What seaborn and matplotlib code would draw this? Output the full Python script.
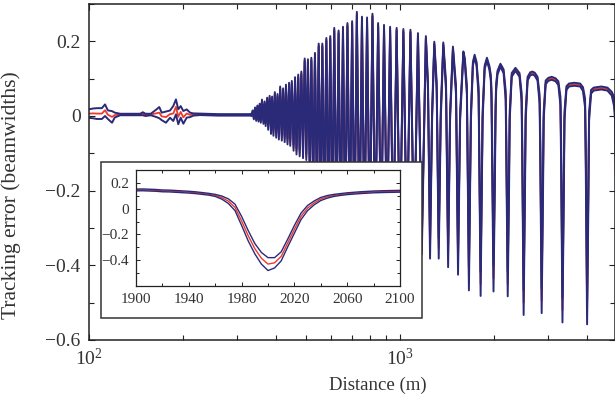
import numpy as np
import pandas as pd
import seaborn as sns
import matplotlib.pyplot as plt
from matplotlib.patches import Rectangle
from matplotlib.ticker import MultipleLocator, FuncFormatter, FixedLocator

sns.set_theme(style="ticks")
plt.rcParams['font.family'] = ['Liberation Serif', 'DejaVu Serif']
plt.rcParams['mathtext.fontset'] = 'stix'

NAVY = '#2b2a78'
RED = '#ee3a2c'

# early part: small noise before the oscillations start (distance m, mean, half-spread)
noise_dist = [100, 103, 106, 110, 112.6, 115, 118.6, 121, 126, 135, 146, 149, 152, 158,
              165, 168.3, 171.3, 176.8, 182.2, 186.7, 190.4, 193.7, 197.2, 201.1, 206.2,
              211.3, 216.4, 227.4, 260, 300, 330]
noise_err = [0.0065, 0.007, 0.0065, 0.0065, 0.0155, 0.0035, -0.0025, 0.0025, 0.004, 0.004,
             0.004, 0.006, 0.003, 0.004, 0.0075, 0.009, -0.001, -0.003, 0.005, 0.0067,
             0.0244, -0.002, 0.011, -0.0036, 0.0067, 0.003, 0.004, 0.0045, 0.003, 0.003, 0.003]
noise_spread = [0.0115, 0.013, 0.0145, 0.0145, 0.0155, 0.0115, 0.0155, 0.0065, 0.002, 0.002,
                0.002, 0.004, 0.003, 0.002, 0.0105, 0.015, 0.010, 0.015, 0.0097, 0.02,
                0.02, 0.02, 0.0155, 0.017, 0.011, 0.006, 0.003, 0.002, 0.002, 0.002, 0.002]

# dense oscillations: alternating troughs / peaks
osc_dist = [333, 336, 339, 342, 345, 348, 351, 354, 357, 360, 364, 367, 370, 374, 377, 381,
            385, 388, 392, 396, 400, 404, 408, 412, 417, 421, 426, 430, 435, 440, 444, 449,
            455, 460, 465, 471, 476, 482, 488, 494, 500, 506, 513, 519, 526, 533, 541, 548,
            556, 563, 571, 580, 588, 597, 606, 615, 625, 635, 645, 656, 667, 678, 690, 702,
            714, 727, 741, 755, 769, 784, 800, 816, 833, 851, 870, 889, 909, 930, 952, 976,
            1000, 1026, 1053, 1081, 1111, 1143, 1176, 1212]
osc_err = [0.002, 0.012, -0.005, 0.02, -0.008, 0.025, -0.01, 0.03, -0.012, 0.04, -0.015, 0.035,
           -0.02, 0.045, -0.03, 0.05, -0.04, 0.048, -0.045, 0.06, -0.05, 0.055, -0.055, 0.075,
           -0.058, 0.07, -0.062, 0.08, -0.068, 0.085, -0.072, 0.09, -0.085, 0.1, -0.095, 0.107,
           -0.1, 0.115, -0.105, 0.15, -0.11, 0.148, -0.15, 0.152, -0.19, 0.165, -0.22, 0.19,
           -0.24, 0.19, -0.26, 0.205, -0.28, 0.21, -0.3, 0.232, -0.31, 0.225, -0.32, 0.235,
           -0.33, 0.245, -0.33, 0.25, -0.34, 0.275, -0.34, 0.262, -0.34, 0.26, -0.35, 0.27,
           -0.35, 0.245, -0.35, 0.24, -0.35, 0.235, -0.35, 0.232, -0.35, 0.229, -0.35, 0.227,
           -0.35, 0.218, -0.35, 0.21]
osc_spread = [0.002, 0.003, 0.004, 0.003, 0.005, 0.003, 0.005, 0.003, 0.006, 0.004, 0.006, 0.004,
              0.007, 0.004, 0.007, 0.004, 0.008, 0.004, 0.008, 0.004, 0.008, 0.004, 0.008, 0.004,
              0.008, 0.004, 0.008, 0.004, 0.008, 0.004, 0.008, 0.004, 0.008, 0.004, 0.008, 0.004,
              0.008, 0.004, 0.008, 0.004, 0.008, 0.004, 0.02, 0.004, 0.02, 0.004, 0.02, 0.004,
              0.02, 0.004, 0.02, 0.004, 0.02, 0.004, 0.02, 0.004, 0.02, 0.004, 0.02, 0.004,
              0.02, 0.004, 0.02, 0.004, 0.02, 0.004, 0.02, 0.004, 0.02, 0.004, 0.02, 0.004,
              0.02, 0.004, 0.02, 0.004, 0.02, 0.004, 0.02, 0.004, 0.02, 0.004, 0.02, 0.004,
              0.02, 0.004, 0.02, 0.004]

# far range: separate narrow dips with rounded tops
far_dist = [1231, 1250, 1269, 1290, 1313, 1333, 1353, 1379, 1407, 1429, 1450, 1481,
            1515, 1538, 1562, 1600, 1617, 1642, 1667, 1692, 1717, 1739, 1764, 1791, 1818,
            1845, 1873, 1905, 1940, 1960, 1970, 1980, 2000, 2020, 2030, 2040, 2060, 2105,
            2155, 2189, 2200, 2222, 2244, 2255, 2289, 2353, 2425, 2463, 2475, 2500, 2525,
            2538, 2575, 2625, 2667, 2714, 2771, 2814, 2829, 2857, 2886, 2900, 2943, 3000,
            3077, 3167, 3233, 3283, 3300, 3333, 3366, 3383, 3433, 3500, 3636, 3800, 3880,
            3940, 3960, 4000, 4040, 4060, 4120, 4200, 4444, 4650, 4800, 4880, 4930, 5000]
far_err = [0.08, -0.355, 0.0, 0.195, 0.08, -0.355, 0.0, 0.193, 0.08, -0.375, 0.0, 0.182,
           0.07, -0.395, 0.0, 0.169, 0.15, 0.07, -0.435, 0.0, 0.14, 0.16, 0.14, 0.065, -0.45,
           0.0, 0.13, 0.152, 0.129, 0.103, 0.06, -0.096, -0.435, -0.16, 0.008, 0.078, 0.116, 0.136,
           0.12, 0.055, -0.1, -0.45, -0.17, 0.0, 0.11, 0.125, 0.11, 0.05, -0.1, -0.5, -0.18,
           0.0, 0.1, 0.113, 0.115, 0.112, 0.1, 0.045, -0.1, -0.495, -0.18, 0.0, 0.09, 0.098,
           0.101, 0.097, 0.088, 0.04, -0.1, -0.52, -0.19, 0.0, 0.075, 0.083, 0.085, 0.083, 0.072,
           0.035, -0.1, -0.525, -0.19, 0.0, 0.065, 0.072, 0.075, 0.072, 0.06, 0.04, 0.0, -0.55]
far_spread = [0.012, 0.027, 0.012, 0.004, 0.012, 0.027, 0.012, 0.004, 0.012, 0.03, 0.012, 0.004,
              0.012, 0.03, 0.012, 0.004, 0.005, 0.012, 0.032, 0.012, 0.005, 0.004, 0.005, 0.012, 0.032,
              0.012, 0.005, 0.004, 0.005, 0.008, 0.015, 0.035, 0.035, 0.03, 0.02, 0.01, 0.005, 0.004,
              0.005, 0.012, 0.03, 0.033, 0.03, 0.012, 0.005, 0.004, 0.005, 0.012, 0.03, 0.033, 0.03,
              0.012, 0.005, 0.004, 0.004, 0.004, 0.005, 0.012, 0.03, 0.033, 0.03, 0.012, 0.005, 0.004,
              0.004, 0.004, 0.005, 0.012, 0.03, 0.033, 0.03, 0.012, 0.005, 0.004, 0.004, 0.004, 0.005,
              0.012, 0.03, 0.033, 0.03, 0.012, 0.005, 0.004, 0.004, 0.004, 0.005, 0.012, 0.02, 0.03]

# inset: one dip around 2000 m
inset_dist = [1900, 1905, 1910, 1915, 1920, 1925, 1930, 1935, 1940, 1945, 1950, 1955, 1960,
              1965, 1970, 1975, 1980, 1985, 1990, 1995, 2000, 2005, 2010, 2015, 2020, 2025,
              2030, 2035, 2040, 2045, 2050, 2055, 2060, 2070, 2080, 2090, 2100]
inset_err = [0.145, 0.146, 0.144, 0.142, 0.138, 0.137, 0.134, 0.131, 0.128, 0.124, 0.118, 0.112,
             0.103, 0.086, 0.058, 0.01, -0.095, -0.21, -0.31, -0.385, -0.43, -0.42, -0.37,
             -0.265, -0.16, -0.06, 0.005, 0.045, 0.075, 0.092, 0.103, 0.11, 0.116, 0.124, 0.13,
             0.133, 0.135]
inset_spread = [0.007, 0.007, 0.007, 0.007, 0.007, 0.007, 0.007, 0.007, 0.007, 0.007, 0.007,
                0.007, 0.008, 0.012, 0.018, 0.025, 0.035, 0.04, 0.04, 0.045, 0.05, 0.04, 0.035,
                0.03, 0.03, 0.025, 0.02, 0.015, 0.012, 0.01, 0.008, 0.007, 0.007, 0.007, 0.007,
                0.007, 0.007]
inset_ticks = [1900, 1940, 1980, 2020, 2060, 2100]

main = pd.DataFrame({
    "distance": noise_dist + osc_dist + far_dist,
    "err": noise_err + osc_err + far_err,
    "spread": noise_spread + osc_spread + far_spread,
})
main["upper"] = main["err"] + main["spread"]
main["lower"] = main["err"] - main["spread"]

ins = pd.DataFrame({"distance": inset_dist, "err": inset_err, "spread": inset_spread})
ins["upper"] = ins["err"] + ins["spread"]
ins["lower"] = ins["err"] - ins["spread"]

fig = plt.figure(figsize=(6.15, 3.98), dpi=100)
ax = fig.add_axes([89 / 615, 1 - 340 / 398, 525.5 / 615, 336 / 398])
ax.set_xscale("log")

sns.lineplot(data=main, x="distance", y="err", color=RED, lw=1.3, ax=ax,
             estimator=None, sort=False)
for col in ["upper", "lower"]:
    sns.lineplot(data=main, x="distance", y=col, color=NAVY, lw=1.4, ax=ax,
                 estimator=None, sort=False)

ax.set_xlim(100, 4900)
ax.set_ylim(-0.6, 0.3)
ax.yaxis.set_major_locator(FixedLocator([-0.6, -0.4, -0.2, 0, 0.2]))
ax.yaxis.set_minor_locator(MultipleLocator(0.1))
fmt = FuncFormatter(lambda v, p: "0" if abs(v) < 1e-9 else f"{v:.1f}".replace("-", "\u2212"))
ax.yaxis.set_major_formatter(fmt)
ax.tick_params(which="both", direction="in", top=True, right=True, colors="#222222",
               labelcolor="#333333", width=0.8)
ax.tick_params(which="major", length=4.5, labelsize=14, pad=6)
ax.tick_params(which="minor", length=3.5)
for s in ax.spines.values():
    s.set_color("#222222")
    s.set_linewidth(1.1)
ax.set_xlabel("Distance (m)", fontsize=13.5, color="#333333")
ax.set_ylabel("Tracking error (beamwidths)", fontsize=15.5, color="#333333")
ax.xaxis.set_label_coords(0.55, -0.11)
ax.yaxis.set_label_coords(-0.13, 0.43)

# white framed box behind the inset
box = Rectangle((101 / 615, 1 - 318 / 398), 320.5 / 615, 156 / 398, transform=fig.transFigure,
                facecolor="white", edgecolor="#333333", lw=1.1, zorder=1)
fig.patches.append(box)

axi = fig.add_axes([136 / 615, 1 - 286 / 398, 264 / 615, 116 / 398], zorder=2)
sns.lineplot(data=ins, x="distance", y="err", color=RED, lw=1.0, ax=axi,
             estimator=None, sort=False)
for col in ["upper", "lower"]:
    sns.lineplot(data=ins, x="distance", y=col, color=NAVY, lw=1.0, ax=axi,
                 estimator=None, sort=False)
axi.set_xlim(1900, 2100)
axi.set_ylim(-0.6, 0.3)
axi.xaxis.set_major_locator(FixedLocator(inset_ticks))
axi.xaxis.set_minor_locator(MultipleLocator(20))
axi.yaxis.set_major_locator(FixedLocator([-0.4, -0.2, 0, 0.2]))
axi.yaxis.set_minor_locator(MultipleLocator(0.1))
axi.yaxis.set_major_formatter(fmt)
axi.tick_params(which="both", direction="in", top=True, right=True, colors="#222222",
                labelcolor="#333333", width=0.7)
axi.tick_params(which="major", length=3, labelsize=11, pad=5)
axi.tick_params(which="minor", length=2.5)
axi.set_xlabel("")
axi.set_ylabel("")
for s in axi.spines.values():
    s.set_color("#222222")
    s.set_linewidth(0.9)

fig.savefig("out.png", dpi=100)
